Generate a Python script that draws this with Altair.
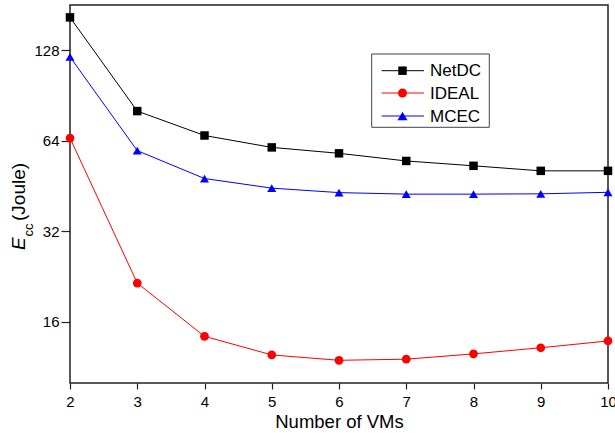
import altair as alt
import pandas as pd

# Energy consumption (Joule) versus number of VMs, per scheme
vms = [2, 3, 4, 5, 6, 7, 8, 9, 10]
series_names = ["NetDC", "IDEAL", "MCEC"]
netdc = [164.6, 80.3, 66.6, 60.8, 58.1, 54.8, 52.8, 50.8, 50.8]
ideal = [65.3, 21.5, 14.3, 12.4, 11.9, 12.0, 12.5, 13.1, 13.8]
mcec = [121.6, 59.3, 47.9, 44.5, 43.0, 42.5, 42.5, 42.6, 43.1]

series_colors = ["#000000", "#ff0000", "#0000ff"]
series_shapes = ["square", "circle", "triangle-up"]
series_sizes = [72, 81, 100]
y_ticks = [16, 32, 64, 128]
x_title = "Number of VMs"
y_title_parts = ["E", "cc", "(Joule)"]

FONT = "Liberation Sans"
W, H = 538, 378

rows = []
for name, vals in zip(series_names, [netdc, ideal, mcec]):
    for v, e in zip(vms, vals):
        rows.append({"vms": v, "energy": e, "series": name})
df = pd.DataFrame(rows)

x_enc = alt.X(
    "vms:Q",
    scale=alt.Scale(domain=[2, 10], nice=False, zero=False),
    axis=alt.Axis(values=vms, title=x_title, format="d", domain=False, grid=False,
                  tickSize=6, tickColor="#222", tickWidth=1.2, labelPadding=5,
                  labelFlush=False, labelBound=False, labelOverlap=False,
                  labelFontSize=15, labelFont=FONT, labelColor="#000",
                  titleFont=FONT, titleFontSize=18.5, titleFontWeight="normal",
                  titleColor="#000", titlePadding=3),
)
y_enc = alt.Y(
    "energy:Q",
    scale=alt.Scale(type="log", base=2, domain=[10, 181], nice=False),
    axis=alt.Axis(values=y_ticks, title=None, format="d", domain=False, grid=False,
                  tickSize=9, tickColor="#222", tickWidth=1.2, labelPadding=2,
                  labelFlush=False, labelOverlap=False,
                  labelFontSize=15, labelFont=FONT, labelColor="#000"),
)
color = alt.Color("series:N", scale=alt.Scale(domain=series_names, range=series_colors), legend=None)
shape = alt.Shape("series:N", scale=alt.Scale(domain=series_names, range=series_shapes), legend=None)
size = alt.Size("series:O", scale=alt.Scale(domain=series_names, range=series_sizes), legend=None)

base = alt.Chart(df)
lines = base.mark_line(strokeWidth=1).encode(x=x_enc, y=y_enc, color=color, detail="series:N")
points = base.mark_point(filled=True, opacity=1).encode(
    x="vms:Q", y="energy:Q", color=color, shape=shape, size=size
)

one = pd.DataFrame({"k": [0]})

# Y axis title with subscript, drawn as rotated text pieces
y_title_layers = [
    alt.Chart(one).mark_text(angle=270, align="left", baseline="alphabetic", font=FONT,
                             fontSize=19, fontStyle="italic", color="#000")
    .encode(x=alt.value(-45), y=alt.value(245), text=alt.value(y_title_parts[0])),
    alt.Chart(one).mark_text(angle=270, align="left", baseline="alphabetic", font=FONT,
                             fontSize=13, color="#000")
    .encode(x=alt.value(-37.5), y=alt.value(231.5), text=alt.value(y_title_parts[1])),
    alt.Chart(one).mark_text(angle=270, align="left", baseline="alphabetic", font=FONT,
                             fontSize=19, color="#000")
    .encode(x=alt.value(-45), y=alt.value(216), text=alt.value(y_title_parts[2])),
]

# Boxed legend: line + marker + label per series
legend_layers = [
    alt.Chart(one).mark_rect(fill="white", stroke="#444", strokeWidth=1).encode(
        x=alt.value(301.7), x2=alt.value(419.3), y=alt.value(49), y2=alt.value(122.3)
    )
]
leg_y = [65.7, 88.0, 111.0]
for name, col, shp, sz, ly in zip(series_names, series_colors, series_shapes, series_sizes, leg_y):
    legend_layers.append(
        alt.Chart(one).mark_rule(color=col, strokeWidth=1).encode(
            x=alt.value(311.7), x2=alt.value(354), y=alt.value(ly)
        )
    )
    legend_layers.append(
        alt.Chart(one).mark_point(filled=True, opacity=1, color=col, shape=shp, size=sz).encode(
            x=alt.value(332.5), y=alt.value(ly)
        )
    )
    legend_layers.append(
        alt.Chart(one).mark_text(align="left", baseline="middle", font=FONT, fontSize=17, color="#000").encode(
            x=alt.value(360), y=alt.value(ly + 0.5), text=alt.value(name)
        )
    )

chart = alt.layer(lines, points, *y_title_layers, *legend_layers).properties(
    width=W,
    height=H,
    autosize=alt.AutoSizeParams(type="none"),
    padding={"left": 70, "top": 5, "right": 7, "bottom": 50},
    background="white",
).configure_view(stroke="#222", strokeWidth=1.5)

chart.save("out.html", embed_options={"renderer": "svg", "actions": False})
